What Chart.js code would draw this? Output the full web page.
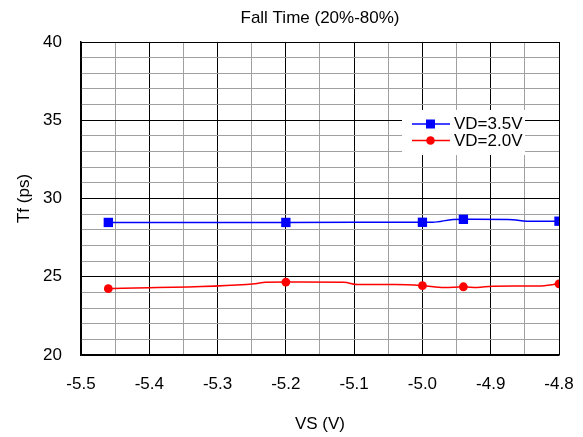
<!DOCTYPE html>
<html>
<head>
<meta charset="utf-8">
<script src="https://cdn.jsdelivr.net/npm/chart.js@4.4.1/dist/chart.umd.min.js"></script>
<style>
  html, body { margin: 0; padding: 0; background: #ffffff; }
  #wrap { width: 583px; height: 437px; }
</style>
</head>
<body>
<div id="wrap"><canvas id="c" width="583" height="437"></canvas></div>
<script>
// ---- data ----
const chartTitle = "Fall Time (20%-80%)";
const xTitle = "VS (V)";
const yTitle = "Tf (ps)";
const seriesLabels = ["VD=3.5V", "VD=2.0V"];

// VD=3.5V trace (measured points marked)
const blueX = [-5.46, -5.2, -5.0, -4.985, -4.955, -4.94, -4.875, -4.84, -4.8];
const blueY = [28.47, 28.47, 28.48, 28.48, 28.66, 28.67, 28.66, 28.54, 28.55];
const blueMarked = [true, true, true, false, false, true, false, false, true];

// VD=2.0V trace (measured points marked)
const redX = [-5.46, -5.245, -5.23, -5.2, -5.115, -5.095, -5.04, -5.0, -4.968, -4.94, -4.92, -4.897, -4.83, -4.8];
const redY = [24.24, 24.56, 24.65, 24.66, 24.65, 24.5, 24.5, 24.43, 24.31, 24.36, 24.31, 24.4, 24.41, 24.55];
const redMarked = [true, false, false, true, false, false, false, true, false, true, false, false, false, true];

const xMin = -5.5, xMax = -4.8, xStep = 0.05;
const yMin = 20, yMax = 40, yStep = 1;

// ---- build ----
const toPts = (xs, ys) => xs.map((x, i) => ({ x: x, y: ys[i] }));
const FONT = "'Liberation Sans', Arial, sans-serif";
const GRID_MINOR = '#a0a0a0';
const GRID_MAJOR = '#000000';

const overlay = {
  id: 'overlay',
  afterDatasetsDraw(chart) {
    const { ctx, chartArea } = chart;
    ctx.save();
    // title centered over the plot
    ctx.fillStyle = '#000';
    ctx.font = '17px ' + FONT;
    ctx.textAlign = 'center';
    ctx.textBaseline = 'middle';
    ctx.fillText(chartTitle, (chartArea.left + chartArea.right) / 2, 18);

    // legend box inside plot
    const bx = chartArea.right - 157, by = chartArea.top + 68;
    ctx.fillStyle = '#ffffff';
    ctx.fillRect(bx, by, 123, 45);
    chart.data.datasets.forEach((ds, i) => {
      const ly = by + 14 + i * 16.5;
      ctx.strokeStyle = ds.borderColor;
      ctx.lineWidth = 1.5;
      ctx.beginPath();
      ctx.moveTo(bx + 10, ly);
      ctx.lineTo(bx + 48, ly);
      ctx.stroke();
      ctx.fillStyle = ds.backgroundColor;
      const mx = bx + 28.5;
      if (ds.pointStyle === 'rect') {
        ctx.fillRect(mx - 4.5, ly - 4.5, 9, 9);
      } else {
        ctx.beginPath();
        ctx.arc(mx, ly, 4.3, 0, Math.PI * 2);
        ctx.fill();
      }
      ctx.fillStyle = '#000';
      ctx.font = '17px ' + FONT;
      ctx.textAlign = 'left';
      ctx.textBaseline = 'middle';
      ctx.fillText(ds.label, bx + 52, ly + 0.5);
    });
    ctx.restore();
  }
};

new Chart(document.getElementById('c'), {
  type: 'line',
  data: {
    datasets: [
      {
        label: seriesLabels[0],
        data: toPts(blueX, blueY),
        borderColor: '#0000ff',
        backgroundColor: '#0000ff',
        borderWidth: 1.5,
        pointStyle: 'rect',
        pointRadius: blueMarked.map(m => m ? 6.6 : 0),
        pointHoverRadius: 0,
        pointBorderWidth: 0,
        cubicInterpolationMode: 'monotone'
      },
      {
        label: seriesLabels[1],
        data: toPts(redX, redY),
        borderColor: '#ff0000',
        backgroundColor: '#ff0000',
        borderWidth: 1.5,
        pointStyle: 'circle',
        pointRadius: redMarked.map(m => m ? 4.4 : 0),
        pointHoverRadius: 0,
        pointBorderWidth: 0,
        cubicInterpolationMode: 'monotone'
      }
    ]
  },
  options: {
    responsive: false,
    animation: false,
    events: [],
    layout: { padding: { top: 42, right: 24, left: 0, bottom: 0 } },
    plugins: {
      legend: { display: false },
      title: { display: false },
      tooltip: { enabled: false }
    },
    scales: {
      x: {
        type: 'linear',
        min: xMin, max: xMax,
        afterFit: s => { s.height = 82; s.paddingLeft = 0; s.paddingRight = 0; },
        ticks: {
          stepSize: xStep,
          padding: 19,
          color: '#000',
          font: { family: FONT, size: 17 },
          maxRotation: 0,
          autoSkip: false,
          callback: v => (Math.round(v * 100) % 10 === 0 ? v.toFixed(1) : '')
        },
        grid: {
          drawTicks: false,
          lineWidth: 1,
          color: c => (Math.round(c.tick.value * 100) % 10 === 0 ? GRID_MAJOR : GRID_MINOR)
        },
        border: { display: true, color: '#000', width: 1.5 },
        title: {
          display: true, text: xTitle, color: '#000',
          font: { family: FONT, size: 17 },
          padding: { top: 0, bottom: 2 }
        }
      },
      y: {
        type: 'linear',
        min: yMin, max: yMax,
        afterFit: s => { s.width = 81; s.paddingTop = 0; s.paddingBottom = 0; },
        ticks: {
          stepSize: yStep,
          padding: 19,
          color: '#000',
          font: { family: FONT, size: 17 },
          autoSkip: false,
          callback: v => (Math.round(v) % 5 === 0 ? String(v) : '')
        },
        grid: {
          drawTicks: false,
          lineWidth: 1,
          color: c => (Math.round(c.tick.value) % 5 === 0 ? GRID_MAJOR : GRID_MINOR)
        },
        border: { display: true, color: '#000', width: 1.5 },
        title: {
          display: true, text: yTitle, color: '#000',
          font: { family: FONT, size: 17 },
          padding: { top: 14, bottom: 0 }
        }
      }
    }
  },
  plugins: [overlay]
});
</script>
</body>
</html>
